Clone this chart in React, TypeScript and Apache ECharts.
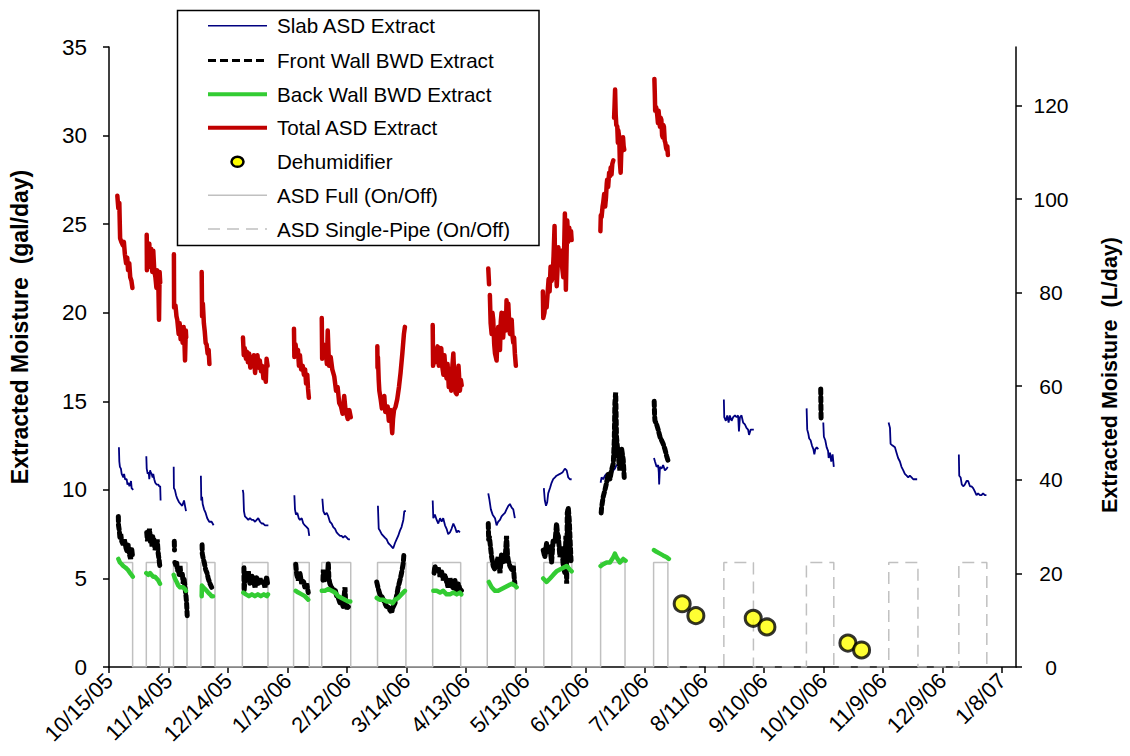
import React, { useEffect, useRef } from "react";
import * as echarts from "echarts";

// ---------- axis ticks ----------
const xTickDays = [0, 30, 60, 90, 120, 150, 180, 210, 240, 270, 300, 330, 360, 390, 420, 450];
const xTickLabels = ["10/15/05", "11/14/05", "12/14/05", "1/13/06", "2/12/06", "3/14/06", "4/13/06", "5/13/06", "6/12/06", "7/12/06", "8/11/06", "9/10/06", "10/10/06", "11/9/06", "12/9/06", "1/8/07"];
const leftTicks = [0, 5, 10, 15, 20, 25, 30, 35];
const rightTicks = [0, 20, 40, 60, 80, 100, 120];
const GAL_TO_L = 3.7854;

// ---------- series data (x = days since 10/15/05, y = gal/day) ----------
const slabAsd: number[][][] = [
  [[5.0,12.4],[5.2,11.6],[5.5,11.3],[6.0,11.2],[6.4,10.9],[7.2,10.7],[7.6,10.9],[8.1,10.6],[8.9,10.6],[9.3,10.3],[9.7,10.4],[10.3,10.2],[10.6,10.3],[11.1,10.5],[11.4,10.1],[12.2,10.0]],
  [[18.8,11.9],[19.0,11.2],[19.5,10.9],[20.0,11.0],[20.3,10.6],[20.7,11.1],[21.0,11.0],[21.5,10.9],[22.0,10.7],[22.3,10.9],[22.8,10.6],[23.3,10.4],[24.0,10.3],[24.8,10.3],[25.3,10.2],[25.8,10.2],[26.0,9.4]],
  [[32.6,11.3],[32.7,10.1],[33.2,10.0],[33.8,9.7],[34.4,9.5],[35.3,9.3],[36.1,9.2],[36.9,9.1],[37.8,9.4],[38.3,9.1],[38.8,8.8]],
  [[46.3,10.8],[46.5,9.4],[46.9,9.6],[47.2,9.2],[47.9,8.9],[48.7,8.7],[49.5,8.4],[50.5,8.2],[51.7,8.2],[52.7,8.0]],
  [[67.4,10.0],[67.7,9.8],[68.0,8.8],[68.5,8.5],[69.4,8.4],[70.2,8.3],[71.0,8.4],[71.9,8.3],[72.7,8.3],[73.6,8.2],[74.4,8.3],[75.2,8.4],[76.1,8.2],[76.9,8.1],[77.7,8.1],[78.6,8.0],[79.4,8.0],[80.3,8.0]],
  [[93.4,9.7],[93.7,8.9],[94.2,8.6],[94.9,8.7],[95.6,8.4],[96.2,8.3],[97.1,8.4],[97.9,8.1],[98.7,8.0],[99.6,7.9],[100.4,7.8],[100.9,7.4]],
  [[107.5,9.5],[108.0,8.8],[108.8,8.6],[109.7,8.7],[110.5,8.5],[111.3,8.2],[112.2,8.1],[113.0,7.9],[113.9,7.8],[114.7,7.6],[115.5,7.5],[116.4,7.4],[117.2,7.4],[118.0,7.3],[118.9,7.4],[119.8,7.3],[120.6,7.2],[121.4,7.2]],
  [[135.5,9.1],[135.9,7.8],[136.5,7.7],[137.4,7.5],[138.2,7.4],[139.0,7.3],[139.9,7.2],[140.7,7.0],[141.6,6.9],[142.4,6.8],[143.2,6.7],[144.1,7.0],[144.9,7.2],[145.7,7.4],[146.6,7.7],[147.4,7.9],[148.3,8.3],[148.8,8.8],[149.6,8.8]],
  [[163.1,9.4],[163.4,8.4],[164.2,8.6],[165.1,8.3],[165.9,8.1],[166.8,8.4],[167.6,8.2],[168.4,8.4],[169.3,8.0],[170.1,7.8],[170.9,7.5],[171.8,7.6],[172.6,7.8],[173.5,8.1],[174.3,7.9],[175.2,7.6],[176.0,7.7],[176.8,7.6]],
  [[191.1,9.8],[191.6,9.5],[192.4,8.9],[193.3,8.6],[194.5,8.4],[195.3,8.0],[196.1,8.2],[197.0,8.3],[197.8,8.5],[198.6,8.6],[199.5,8.7],[200.3,8.9],[201.2,9.1],[202.0,9.2],[202.9,9.0],[203.7,8.9],[204.5,8.4]],
  [[219.1,10.1],[219.6,9.4],[220.2,9.1],[220.8,9.3],[221.3,9.8],[222.2,10.1],[223.0,10.4],[223.8,10.6],[224.7,10.7],[225.5,10.8],[227.2,10.9],[228.6,11.0],[229.7,11.2],[230.6,11.1],[231.4,10.7],[232.2,10.6],[233.1,10.6]],
  [[247.7,10.4],[248.2,10.7],[249.0,10.6],[249.9,10.8],[250.7,10.9],[251.5,10.7],[252.4,11.0],[253.2,10.9],[254.1,11.1],[254.9,11.2],[255.7,11.4],[256.6,11.4]],
  [[274.6,11.8],[275.1,11.6],[275.9,11.3],[276.7,11.4],[277.0,11.0],[277.2,10.3],[277.6,11.3],[278.4,11.2],[279.2,11.4],[280.1,11.1],[281.0,11.2],[281.5,11.3]],
  [[309.8,15.1],[310.0,14.1],[310.8,13.9],[311.5,14.2],[312.2,13.8],[312.8,14.2],[313.7,13.9],[314.5,14.1],[315.4,14.2],[316.2,14.1],[317.0,14.2],[317.4,13.3],[317.9,14.1],[318.7,14.2],[319.5,13.8],[320.4,13.7],[321.2,13.5],[322.0,13.4],[322.5,13.1],[323.3,13.4],[324.3,13.4],[324.9,13.4]],
  [[351.5,14.6],[351.8,13.4],[352.3,13.2],[352.8,12.9],[353.5,12.8],[354.2,12.5],[354.9,12.3],[355.4,12.0],[355.9,12.3],[356.6,12.4],[357.4,12.3]],
  [[359.9,13.8],[360.2,13.0],[360.9,12.8],[361.6,12.4],[362.3,12.2],[362.6,11.8],[363.3,12.1],[363.9,11.6],[364.6,12.0],[365.2,11.3]],
  [[392.8,13.8],[393.5,13.5],[393.8,12.6],[394.8,12.5],[396.0,12.4],[396.8,12.1],[397.6,11.8],[398.5,11.6],[399.3,11.3],[400.2,11.1],[401.0,10.9],[401.9,10.8],[402.7,10.7],[403.5,10.8],[404.4,10.7],[405.2,10.6],[406.0,10.6],[407.2,10.6]],
  [[428.2,12.0],[428.4,10.8],[429.1,10.7],[429.7,10.3],[430.4,10.2],[431.2,10.3],[432.1,10.5],[432.9,10.5],[433.8,10.2],[434.6,10.2],[435.4,10.1],[436.3,9.9],[437.1,9.7],[437.9,9.8],[438.8,9.7],[439.6,9.7],[440.4,9.8],[441.3,9.7],[442.1,9.7]],
];

const frontWallBwd: number[][][] = [
  [[4.7,8.5],[4.8,8.0],[5.2,7.7],[5.5,7.3],[5.9,7.5],[6.4,7.1],[7.2,6.9],[7.7,7.2],[8.1,7.0],[8.6,6.7],[9.2,6.5],[9.7,6.9],[10.2,6.4],[10.9,6.1],[11.4,6.7],[11.9,6.2]],
  [[19.0,7.6],[19.4,7.1],[19.7,7.5],[20.0,7.3],[20.4,7.8],[20.7,7.4],[21.0,7.0],[21.2,7.4],[21.7,6.8],[22.0,7.4],[22.4,6.9],[22.7,7.2],[23.2,6.6],[23.7,6.8],[24.0,7.0],[24.3,7.2],[24.8,6.4],[25.3,6.0],[25.7,5.6]],
  [[32.9,7.1],[33.0,6.6]],
  [[33.2,5.9],[33.8,5.7],[34.1,5.9],[34.5,5.4],[34.9,5.5],[35.3,5.2],[35.8,5.7],[36.3,5.1],[36.9,5.3],[37.4,4.7],[37.8,5.0],[38.3,4.5],[38.8,4.0],[39.1,3.6],[39.4,2.9]],
  [[46.9,6.9],[47.0,6.4],[47.5,6.1],[48.0,5.9],[48.7,5.5],[49.4,5.3],[50.0,5.0],[50.9,4.7],[51.7,4.5]],
  [[68.0,5.6],[68.1,4.3],[68.7,5.3],[69.4,4.9],[70.2,5.4],[71.0,4.7],[71.9,5.2],[72.7,4.9],[73.6,4.5],[74.4,5.1],[75.2,4.7],[76.1,5.0],[76.9,4.7],[77.7,4.9],[78.6,4.5],[79.4,5.1],[79.9,4.7]],
  [[94.1,5.8],[94.6,5.2],[95.4,4.9],[96.2,5.3],[97.1,4.7],[97.9,4.9],[98.7,4.5],[99.6,4.7],[100.4,4.2]],
  [[107.8,4.9],[108.0,5.5],[108.8,4.9],[109.3,5.3],[109.7,5.1],[110.2,5.3],[110.5,5.9],[110.8,5.0],[111.3,4.7],[112.2,4.5],[113.0,4.3],[113.9,4.4],[114.7,4.0],[115.5,3.9],[116.4,3.6],[117.2,3.7],[118.0,3.4],[118.9,4.5],[119.3,3.5],[119.8,3.3],[120.6,3.4]],
  [[134.9,4.8],[135.7,4.4],[136.5,4.1],[137.4,4.0],[138.2,3.8],[139.0,3.6],[139.9,3.4],[140.7,3.4],[141.6,3.2],[142.4,3.1],[143.2,3.4],[144.1,3.6],[144.9,4.0],[145.7,4.5],[146.6,4.9],[147.4,5.3],[148.3,5.9],[148.6,6.4]],
  [[163.8,5.3],[164.2,5.7],[165.1,5.4],[165.9,5.6],[166.8,5.1],[167.6,5.4],[168.4,4.9],[169.3,5.2],[170.1,4.8],[170.9,4.5],[171.8,5.0],[172.6,4.7],[173.5,4.4],[174.3,4.9],[175.2,4.2],[176.0,4.7],[176.8,4.4],[177.7,4.3]],
  [[191.1,8.1],[191.3,7.2],[191.6,7.4],[192.0,7.0],[192.8,6.2],[193.6,5.7],[194.5,5.5],[195.3,5.9],[196.1,6.2],[197.0,5.3],[197.8,6.4],[198.6,6.0],[199.5,5.9],[200.3,7.4],[200.8,6.3],[201.2,6.0],[202.0,5.7],[202.9,5.5],[203.7,5.7],[204.2,5.0],[204.5,4.7]],
  [[218.8,6.6],[219.6,6.2],[220.5,7.0],[221.3,6.4],[222.2,6.8],[223.0,5.9],[223.8,7.2],[224.7,7.0],[225.5,8.1],[226.0,7.5],[226.4,7.4],[227.2,6.2],[228.1,6.8],[228.9,5.7],[229.7,5.3],[230.2,7.4],[230.6,4.7],[230.9,8.7],[231.4,9.0],[231.9,8.3],[232.4,7.0],[232.8,6.0]],
  [[248.0,8.7],[248.2,9.0],[249.0,9.6],[249.9,10.0],[250.7,10.4],[251.5,10.9],[252.4,10.6],[253.2,11.1],[254.1,11.5],[254.6,12.8],[254.9,14.9],[255.3,15.5],[255.5,14.3],[255.7,13.0],[256.6,11.9],[257.4,11.1],[258.3,12.3],[259.1,11.7],[259.6,10.7]],
  [[274.7,15.0],[274.9,14.2],[275.1,13.9],[275.9,13.7],[276.7,13.4],[277.6,13.0],[278.4,12.8],[279.2,12.6],[280.1,12.3],[281.0,11.9],[281.8,11.6]],
  [[358.6,15.7],[358.7,14.8],[358.8,13.9]],
];

const backWallBwd: number[][][] = [
  [[4.7,6.1],[5.5,5.9],[6.4,5.8],[7.2,5.7],[8.4,5.6],[9.4,5.5],[10.6,5.3],[11.4,5.2],[12.0,5.1]],
  [[18.8,5.3],[19.8,5.2],[20.7,5.3],[21.5,5.2],[22.3,5.1],[23.2,5.1],[24.0,5.0],[24.8,4.9],[25.7,4.7]],
  [[32.6,5.2],[33.2,5.0],[34.1,4.8],[34.9,4.6],[35.8,4.5],[36.6,4.5],[37.4,4.5],[38.3,4.4],[38.8,4.3]],
  [[46.7,4.0],[46.8,4.6],[47.5,4.5],[48.4,4.4],[49.2,4.3],[50.0,4.2],[50.9,4.1],[51.7,4.0],[52.4,4.0]],
  [[67.7,4.2],[69.0,4.1],[70.5,4.0],[72.0,4.1],[73.5,4.0],[75.0,4.1],[76.5,4.0],[78.0,4.1],[79.5,4.0],[80.1,4.1]],
  [[94.1,4.3],[95.4,4.2],[97.1,4.1],[98.7,4.0],[100.4,3.8]],
  [[107.2,4.3],[108.8,4.3],[110.5,4.4],[112.2,4.3],[113.9,4.2],[115.5,4.0],[117.2,3.9],[118.9,3.8],[120.6,3.7],[121.6,3.7]],
  [[134.9,3.9],[136.5,3.8],[138.2,3.8],[139.9,3.7],[141.6,3.7],[142.9,3.6],[144.1,3.8],[145.7,3.9],[147.4,4.1],[149.1,4.3]],
  [[163.4,4.3],[165.1,4.3],[166.8,4.2],[168.4,4.3],[170.1,4.1],[171.8,4.1],[173.5,4.2],[175.2,4.1],[176.8,4.2],[177.5,4.1]],
  [[191.4,4.8],[192.8,4.5],[194.5,4.3],[196.1,4.3],[197.8,4.4],[199.5,4.5],[201.2,4.6],[202.9,4.7],[204.5,4.6],[205.4,4.5]],
  [[218.8,5.0],[220.5,4.8],[222.2,5.0],[223.8,5.2],[225.5,5.4],[227.2,5.5],[228.9,5.6],[230.6,5.7],[232.2,5.5],[233.1,5.4]],
  [[247.7,5.7],[249.0,5.8],[250.7,5.9],[252.4,5.9],[254.1,6.2],[254.9,6.4],[255.7,6.2],[257.4,5.9],[259.1,6.1],[260.3,6.0]],
  [[274.6,6.6],[275.9,6.5],[277.6,6.4],[279.2,6.3],[281.0,6.2],[282.1,6.1]],
];

const totalAsd: number[][][] = [
  [[4.2,26.6],[4.7,25.9],[5.2,26.2],[5.6,24.2],[6.2,24.0],[7.0,23.8],[7.5,24.0],[8.0,23.3],[8.6,22.8],[9.2,23.1],[9.6,22.4],[10.2,22.8],[10.7,22.0],[11.3,21.8],[11.8,21.4]],
  [[19.0,24.4],[19.1,22.4],[19.6,23.0],[20.3,23.9],[20.8,22.6],[21.3,23.6],[21.8,22.3],[22.3,23.5],[22.8,22.4],[23.4,22.0],[23.9,21.4],[24.2,22.4],[24.8,22.0],[25.2,19.6],[25.5,22.3],[25.8,21.7]],
  [[32.7,23.3],[32.8,20.3],[33.5,20.4],[34.0,19.8],[34.4,19.6],[35.1,18.8],[35.6,19.4],[36.1,18.5],[36.6,19.1],[37.1,18.3],[37.6,19.2],[38.0,18.4],[38.3,17.3],[38.7,19.0],[38.9,18.6]],
  [[46.7,22.3],[46.9,19.8],[47.3,20.5],[47.8,19.4],[48.2,19.0],[48.7,18.3],[49.2,18.2],[49.7,17.7],[50.2,17.9],[50.6,17.1]],
  [[67.5,18.6],[67.9,17.6],[68.4,18.0],[69.0,17.4],[69.5,17.8],[70.0,17.2],[70.6,17.7],[71.2,16.9],[71.8,17.5],[72.4,17.0],[73.0,17.6],[73.6,16.6],[74.2,17.3],[74.8,17.6],[75.4,16.9],[76.0,17.3],[76.6,16.7],[77.2,17.0],[77.8,16.3],[78.4,16.6],[79.0,16.1],[79.4,17.4],[79.9,17.0]],
  [[93.2,19.1],[93.4,17.5],[94.0,18.2],[94.6,17.6],[95.2,17.9],[95.7,17.0],[96.2,17.6],[96.8,16.8],[97.6,17.0],[98.2,16.5],[98.8,16.8],[99.3,16.0],[99.9,16.5],[100.3,15.7],[100.7,15.2]],
  [[107.2,19.7],[107.4,17.4],[108.0,18.2],[108.5,17.6],[109.2,17.8],[109.8,17.1],[110.2,19.0],[110.6,17.8],[110.9,17.0],[111.7,17.5],[112.5,16.8],[113.5,16.4],[114.4,15.6],[115.2,15.8],[116.0,14.9],[116.9,14.7],[117.7,14.3],[118.5,15.3],[119.1,14.6],[119.6,14.3],[120.3,14.0],[121.1,14.5],[121.8,14.1]],
  [[135.2,18.1],[135.3,16.9],[135.5,17.5],[135.9,16.2],[136.2,15.6],[136.9,15.1],[137.5,14.6],[137.9,14.9],[138.7,15.3],[139.2,14.4],[139.5,14.5],[140.4,14.7],[141.0,13.9],[141.5,14.2],[142.1,14.5],[142.5,13.5],[142.7,13.2],[143.1,14.0],[143.6,14.5],[144.4,14.7],[145.2,15.1],[145.6,15.4],[146.1,15.8],[146.9,16.6],[147.8,17.7],[148.6,18.8],[149.1,19.2]],
  [[163.1,19.3],[163.3,17.0],[163.8,18.0],[164.4,17.2],[165.1,17.6],[165.6,18.1],[166.2,17.0],[166.8,17.6],[167.4,18.0],[168.0,16.9],[168.5,16.5],[169.0,17.6],[169.6,16.6],[170.1,16.3],[170.6,17.1],[171.2,15.8],[171.8,16.3],[172.4,15.6],[172.9,16.8],[173.5,17.7],[174.0,16.3],[174.6,15.5],[175.2,15.4],[175.7,16.4],[176.1,17.0],[176.8,15.6],[177.3,16.2],[177.7,15.9]],
  [[191.1,22.5],[191.5,21.6]],
  [[191.9,21.0],[192.3,19.4],[192.8,18.8],[193.2,20.0],[193.6,19.6],[194.1,18.2],[194.5,17.7],[195.3,17.3],[195.7,18.5],[196.1,19.2],[196.6,18.0],[197.0,17.9],[197.4,19.5],[197.8,20.0],[198.2,18.9],[198.6,18.6],[199.1,19.6],[199.5,20.0],[200.0,19.0],[200.3,20.7],[200.8,19.8],[201.2,20.5],[201.6,19.5],[202.0,18.8],[202.5,19.3],[202.9,19.6],[203.3,18.7],[203.7,18.3],[204.1,18.6],[204.5,17.7],[205.0,17.0]],
  [[218.6,21.2],[218.8,19.7],[219.4,20.0],[220.0,20.8],[220.5,20.3],[221.0,21.1],[221.5,21.9],[222.0,21.2],[222.5,22.6],[223.0,21.8],[223.5,22.0],[224.0,23.2],[224.5,24.9],[224.8,22.4],[225.2,22.8],[225.6,21.5],[226.0,22.5],[226.4,23.7],[226.9,22.9],[227.4,23.2],[227.9,23.5],[228.3,22.6],[228.9,22.0],[229.3,23.4],[229.7,25.6],[230.0,23.0],[230.2,21.3],[230.6,23.6],[230.9,25.2],[231.4,24.0],[231.9,24.8],[232.4,24.2],[232.8,24.6],[233.1,24.1]],
  [[247.6,24.6],[247.8,25.5],[248.2,25.4],[248.7,26.0],[249.0,26.2],[249.5,26.7],[250.0,26.0],[250.4,26.5],[250.8,27.3],[251.0,27.5],[251.5,27.1],[252.0,27.9],[252.4,27.7],[252.8,28.2],[253.2,27.8],[253.6,28.4],[254.1,28.6]],
  [[254.5,31.0],[254.7,31.6],[255.0,32.6],[255.3,31.2],[255.6,30.6],[256.1,30.5],[256.4,29.6],[256.6,30.3],[257.1,29.9],[257.4,28.5],[257.8,27.9],[258.1,29.0],[258.5,29.2],[259.0,29.9],[259.3,29.4],[259.6,29.2]],
  [[274.8,33.2],[275.0,32.4],[275.2,31.4],[275.7,31.6],[276.2,31.2],[276.6,30.7],[276.9,31.4],[277.3,30.9],[277.6,30.5],[278.0,31.0],[278.3,30.9],[278.7,30.0],[279.0,29.9],[279.3,30.6],[279.6,30.5],[280.0,29.7],[280.3,29.6],[280.7,29.3],[281.0,29.2],[281.3,29.4],[281.6,28.9]],
];

const dehumidifier: number[][] = [[288.8, 3.57], [295.7, 2.9], [324.6, 2.75], [331.5, 2.26], [372.3, 1.35], [379.2, 0.96]];

// On/off periods (start day, end day) and the plotted "on" level
const asdFullOn: number[][] = [[4.7,11.9],[18.8,25.8],[32.5,39.3],[46.3,53.4],[67.2,80.1],[93.0,100.9],[107.2,121.8],[135.3,149.6],[163.1,177.2],[190.6,204.7],[219.1,233.2],[247.7,260.0],[274.4,281.6]];
const asdSingleOn: number[][] = [[309.8,324.7],[351.4,365.2],[392.9,407.6],[428.2,442.3]];
const onLevel = 5.9;

function joinSegments(segs: number[][][]): any[] {
  const out: any[] = [];
  segs.forEach((s, i) => {
    if (i > 0) out.push([s[0][0], "-"]);
    s.forEach((p) => out.push(p));
  });
  return out;
}

function stepData(periods: number[][], startOn: boolean, startX: number): number[][] {
  const out: number[][] = [];
  periods.forEach(([a, b], i) => {
    if (i === 0 && startOn) {
      out.push([a, onLevel]);
    } else {
      if (i === 0) out.push([startX, 0]);
      out.push([a, 0]);
      out.push([a, onLevel]);
    }
    out.push([b, onLevel]);
    out.push([b, 0]);
  });
  return out;
}

const FONT = "Liberation Sans, Arial, sans-serif";

const legendItems = [
  { name: "Slab ASD Extract", kind: "line", color: "#000080", width: 1.5, dash: null as any },
  { name: "Front Wall BWD Extract", kind: "line", color: "#000000", width: 3, dash: [8, 4] },
  { name: "Back Wall BWD Extract", kind: "line", color: "#33cc33", width: 4, dash: null },
  { name: "Total ASD Extract", kind: "line", color: "#c00000", width: 4, dash: null },
  { name: "Dehumidifier", kind: "dot", color: "#ffff00", width: 0, dash: null },
  { name: "ASD Full (On/Off)", kind: "line", color: "#c0c0c0", width: 1.5, dash: null },
  { name: "ASD Single-Pipe (On/Off)", kind: "line", color: "#c0c0c0", width: 1.5, dash: [12, 7] },
];
const legendRowY = [25.7, 60.5, 94.2, 127.8, 161.8, 195.2, 229];

export default function App() {
  const ref = useRef<HTMLDivElement>(null);
  useEffect(() => {
    document.body.style.margin = "0";
    if (!ref.current) return;
    const chart = echarts.init(ref.current, undefined, { renderer: "svg" });

    const legendGraphics: any[] = [
      { type: "rect", z: 100, shape: { x: 177.5, y: 10.5, width: 361.5, height: 235 }, style: { fill: "#ffffff", stroke: "#000000", lineWidth: 1.5 } },
    ];
    legendItems.forEach((it, i) => {
      const y = legendRowY[i];
      if (it.kind === "line") {
        legendGraphics.push({ type: "line", z: 101, shape: { x1: 208, y1: y, x2: 267, y2: y }, style: { stroke: it.color, lineWidth: it.width, lineDash: it.dash || undefined } });
      } else {
        legendGraphics.push({ type: "ellipse", z: 101, shape: { cx: 237.5, cy: y, rx: 6, ry: 5 }, style: { fill: it.color, stroke: "#000000", lineWidth: 2.5 } });
      }
      legendGraphics.push({ type: "text", z: 101, x: 277, y, style: { text: it.name, fontSize: 20.6, fontFamily: FONT, fill: "#000000", verticalAlign: "middle" } });
    });

    const option: any = {
      animation: false,
      backgroundColor: "#ffffff",
      grid: { left: 109, right: 114, top: 47, bottom: 89, containLabel: false, outerBoundsMode: "none" },
      xAxis: {
        type: "value",
        min: 0,
        max: 457,
        splitLine: { show: false },
        axisLine: { lineStyle: { color: "#000000", width: 1.5 } },
        axisTick: { customValues: xTickDays, length: 6, lineStyle: { color: "#000000", width: 1.5 } },
        axisLabel: {
          customValues: xTickDays,
          rotate: 45,
          margin: 10,
          fontSize: 22,
          fontFamily: FONT,
          color: "#000000",
          formatter: (v: number) => {
            const idx = xTickDays.indexOf(Math.round(v));
            return idx >= 0 ? xTickLabels[idx] : "";
          },
        },
      },
      yAxis: [
        {
          type: "value",
          min: 0,
          max: 35,
          interval: 5,
          position: "left",
          name: "Extracted Moisture  (gal/day)",
          nameLocation: "middle",
          nameRotate: 90,
          nameGap: 78,
          nameTextStyle: { fontSize: 23, fontWeight: "bold", fontFamily: FONT, color: "#000000", padding: [0, 0, 0, 60] },
          splitLine: { show: false },
          axisLine: { show: true, lineStyle: { color: "#000000", width: 1.5 } },
          axisTick: { show: true, customValues: leftTicks, length: 6, lineStyle: { color: "#000000", width: 1.5 } },
          axisLabel: { customValues: leftTicks, margin: 22, fontSize: 22.5, fontFamily: FONT, color: "#000000" },
        },
        {
          type: "value",
          min: 0,
          max: 35 * GAL_TO_L,
          position: "right",
          name: "Extracted Moisture  (L/day)",
          nameLocation: "middle",
          nameRotate: 90,
          nameGap: 83,
          nameTextStyle: { fontSize: 21.5, fontWeight: "bold", fontFamily: FONT, color: "#000000", padding: [0, 36, 0, 0] },
          splitLine: { show: false },
          axisLine: { show: true, lineStyle: { color: "#000000", width: 1.5 } },
          axisTick: { show: true, customValues: rightTicks, length: 6, lineStyle: { color: "#000000", width: 1.5 } },
          axisLabel: {
            customValues: rightTicks,
            margin: 17,
            fontSize: 21,
            fontFamily: FONT,
            color: "#000000",
            formatter: "{c|{value}}",
            rich: { c: { width: 36, align: "center", fontSize: 21, fontFamily: FONT, color: "#000000" } },
          },
        },
      ],
      series: [
        {
          name: "ASD Full (On/Off)", type: "line", showSymbol: false, symbol: "none", z: 1,
          data: stepData(asdFullOn, true, 0),
          lineStyle: { color: "#c0c0c0", width: 1.5 },
        },
        {
          name: "ASD Single-Pipe (On/Off)", type: "line", showSymbol: false, symbol: "none", z: 1,
          data: stepData(asdSingleOn, false, 281.6),
          lineStyle: { color: "#c0c0c0", width: 1.5, type: [12, 7] },
        },
        {
          name: "Slab ASD Extract", type: "line", showSymbol: false, symbol: "none", z: 3,
          data: joinSegments(slabAsd),
          lineStyle: { color: "#000080", width: 1.8 },
        },
        {
          name: "Front Wall BWD Extract", type: "line", showSymbol: false, symbol: "none", z: 3,
          data: joinSegments(frontWallBwd),
          lineStyle: { color: "#000000", width: 5, type: [5, 3], cap: "round" },
        },
        {
          name: "Back Wall BWD Extract", type: "line", showSymbol: false, symbol: "none", z: 3,
          data: joinSegments(backWallBwd),
          lineStyle: { color: "#33cc33", width: 4.5, cap: "round", join: "round" },
        },
        {
          name: "Total ASD Extract", type: "line", showSymbol: false, symbol: "none", z: 3,
          data: joinSegments(totalAsd),
          lineStyle: { color: "#c00000", width: 4.5, cap: "round", join: "round" },
        },
        {
          name: "Dehumidifier", type: "scatter", z: 4,
          data: dehumidifier,
          symbol: "circle",
          symbolSize: 16,
          itemStyle: { color: "#ffff00", borderColor: "#000000", borderWidth: 3 },
        },
      ],
      graphic: legendGraphics,
    };
    chart.setOption(option);
    return () => chart.dispose();
  }, []);
  return <div ref={ref} style={{ width: 1130, height: 756 }} />;
}
